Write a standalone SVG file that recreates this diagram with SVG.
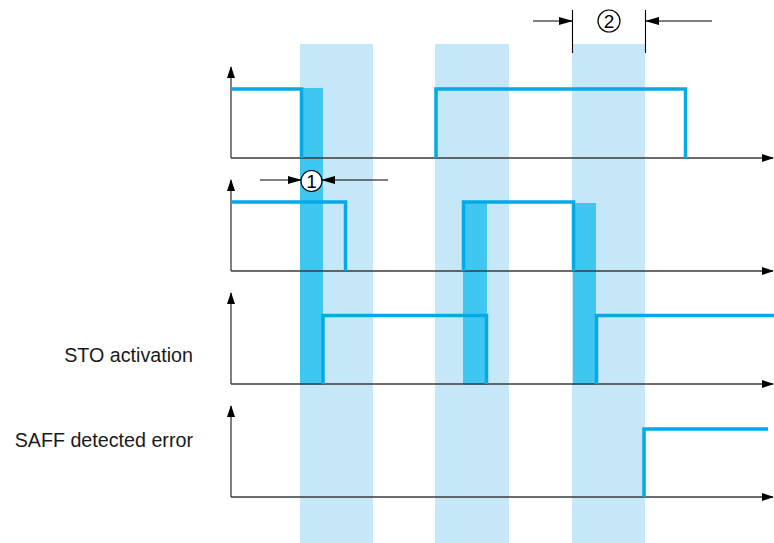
<svg xmlns="http://www.w3.org/2000/svg" width="774" height="543" viewBox="0 0 774 543">
<defs>
<style>
.band{fill:#c6e7f8}
.dark{fill:#3fc7f1}
.axis{stroke:#3a3a3a;stroke-width:1.3;fill:none}
.sig{stroke:#05a9e6;stroke-width:3.5;fill:none;stroke-linejoin:miter}
.dim{stroke:#000;stroke-width:1.1;fill:none}
.lbl{font-family:"Liberation Sans",Arial,sans-serif;font-size:19.7px;fill:#1a1a1a}
.num{font-family:"Liberation Sans",Arial,sans-serif;font-size:19px;fill:#000;text-anchor:middle}
</style>
<marker id="ah" markerWidth="12" markerHeight="8" refX="11" refY="4" orient="auto" markerUnits="userSpaceOnUse">
<path d="M0,0 L12,4 L0,8 Z" fill="#000"/>
</marker>
<marker id="dh" markerWidth="14" markerHeight="8" refX="13" refY="4" orient="auto" markerUnits="userSpaceOnUse">
<path d="M0,0 L14,4 L0,8 Z" fill="#000"/>
</marker>
</defs>

<g id="bands">
<rect class="band" x="300" y="44" width="73" height="499"/>
<rect class="band" x="435" y="44" width="74" height="499"/>
<rect class="band" x="572" y="44" width="73" height="499"/>
<rect class="dark" x="300" y="88" width="23" height="297"/>
<rect class="dark" x="463" y="202" width="24" height="183"/>
<rect class="dark" x="573" y="203" width="23" height="182"/>
</g>

<g id="axes">
<path class="axis" d="M231,158 V67" marker-end="url(#ah)"/>
<path class="axis" d="M231,158 H773" marker-end="url(#ah)"/>
<path class="axis" d="M231,271 V180" marker-end="url(#ah)"/>
<path class="axis" d="M231,271 H773" marker-end="url(#ah)"/>
<path class="axis" d="M231,384 V293" marker-end="url(#ah)"/>
<path class="axis" d="M231,384 H773" marker-end="url(#ah)"/>
<path class="axis" d="M231,497 V406" marker-end="url(#ah)"/>
<path class="axis" d="M231,497 H773" marker-end="url(#ah)"/>
</g>

<g id="signals">
<path class="sig" d="M231,89 H301.5 V158"/>
<path class="sig" d="M436,158 V89 H685.5 V158"/>
<path class="sig" d="M231,202 H345.5 V271"/>
<path class="sig" d="M463.5,271 V202 H573.5 V271"/>
<path class="sig" d="M323,384 V315.5 H486.5 V384"/>
<path class="sig" d="M596.5,384 V315.5 H774"/>
<path class="sig" d="M644,497 V429 H768"/>
</g>

<g id="label-sto"><text class="lbl" x="193" y="362" text-anchor="end">STO activation</text></g>
<g id="label-saff"><text class="lbl" x="193" y="447" text-anchor="end">SAFF detected error</text></g>

<g id="annotation-1">
<path class="dim" d="M260,180 H301" marker-end="url(#dh)"/>
<path class="dim" d="M388,180 H322" marker-end="url(#dh)"/>
<circle cx="311.5" cy="181" r="10.5" fill="#fff" stroke="#000" stroke-width="1.2"/>
<text class="num" x="311.5" y="187.5">1</text>
</g>

<g id="annotation-2">
<path class="dim" d="M572.5,10 V53 M645.5,10 V53"/>
<path class="dim" d="M533,21 H572" marker-end="url(#dh)"/>
<path class="dim" d="M712,21 H646" marker-end="url(#dh)"/>
<circle cx="609" cy="21" r="11" fill="none" stroke="#000" stroke-width="1.2"/>
<text class="num" x="609" y="27.5">2</text>
</g>
</svg>
